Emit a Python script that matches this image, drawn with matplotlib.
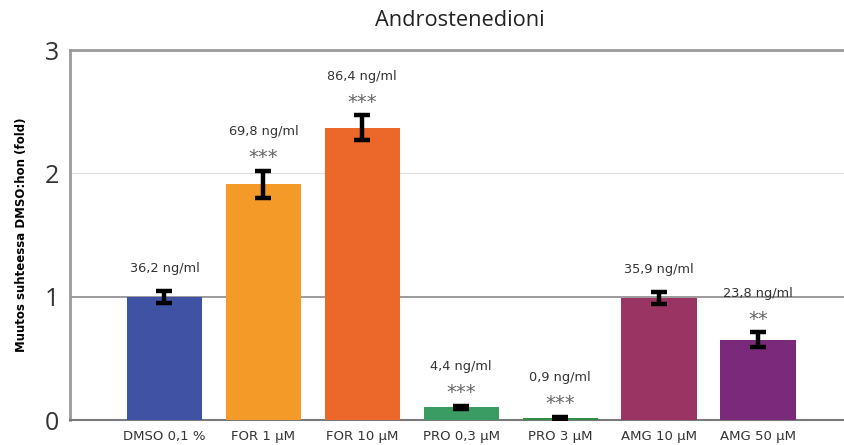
import numpy as np
import matplotlib.pyplot as plt

# Data
labels = ['DMSO 0,1 %', 'FOR 1 µM', 'FOR 10 µM', 'PRO 0,3 µM',
          'PRO 3 µM', 'AMG 10 µM', 'AMG 50 µM']
fold = [1.0, 1.91, 2.37, 0.105, 0.02, 0.99, 0.65]
err = [0.05, 0.11, 0.10, 0.012, 0.008, 0.05, 0.06]
conc = ['36,2 ng/ml', '69,8 ng/ml', '86,4 ng/ml', '4,4 ng/ml',
        '0,9 ng/ml', '35,9 ng/ml', '23,8 ng/ml']
stars = ['', '***', '***', '***', '***', '', '**']
colors = ['#3f52a4', '#f39a28', '#eb672a', '#3a9b63', '#2e8c48',
          '#9a3463', '#7b2a7b']

fig = plt.figure(figsize=(8.45, 4.45), dpi=100)
ax = fig.add_axes([70 / 845, 1 - 420 / 445, 775 / 845, 370 / 445])

x = np.arange(len(labels))
ax.bar(x, fold, width=0.76, color=colors, zorder=3)
ax.errorbar(x, fold, yerr=err, fmt='none', ecolor='black', elinewidth=3.2,
            capsize=5.5, capthick=3.2, zorder=4)

# reference lines
ax.axhline(1, color='#8a8a8a', lw=1.2, zorder=1)
ax.axhline(2, color='#e0e0e0', lw=0.9, zorder=1)

# annotations above the bars
for i in range(len(labels)):
    top = fold[i] + err[i]
    if stars[i]:
        ax.annotate(stars[i], (x[i], top), xytext=(0, 13),
                    textcoords='offset pixels', ha='center', va='center',
                    fontsize=14, color='#666666')
        off = 39
    else:
        off = 22
    ax.annotate(conc[i], (x[i], top), xytext=(0, off),
                textcoords='offset pixels', ha='center', va='center',
                fontsize=9.3, color='#333333')

ax.set_xlim(-0.955, 6.88)
ax.set_ylim(0, 3)
ax.set_xticks(x)
ax.set_xticklabels(labels, fontsize=9.5, color='#333333')
ax.set_yticks([0, 1, 2, 3])
ax.set_yticklabels(['0', '1', '2', '3'], fontsize=18, color='#333333',
                   family='Open Sans')
ax.tick_params(axis='both', length=0)
ax.tick_params(axis='x', pad=7)
ax.tick_params(axis='y', pad=8)

for side in ['left', 'top']:
    ax.spines[side].set_color('#9a9a9a')
    ax.spines[side].set_linewidth(2)
ax.spines['bottom'].set_color('#7a7a7a')
ax.spines['bottom'].set_linewidth(1.5)
ax.spines['right'].set_visible(False)

ax.set_ylabel('Muutos suhteessa DMSO:hon (fold)', fontsize=8.5,
              fontweight='bold', labelpad=12)
fig.text(460 / 845, 1 - 20 / 445, 'Androstenedioni', ha='center',
         va='center', fontsize=15.7, color='#222222', family='Open Sans')

fig.savefig('out.png', dpi=100)
